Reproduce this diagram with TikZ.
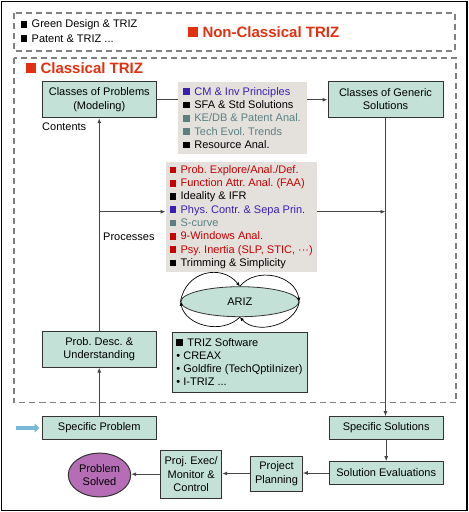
\documentclass[tikz,border=0pt]{standalone}
\usepackage{fontspec}
\setmainfont{Liberation Sans}
\usepackage{tikz}
\usetikzlibrary{arrows.meta,shapes.geometric}
\definecolor{boxfill}{RGB}{195,225,215}
\definecolor{listfill}{RGB}{228,225,221}
\definecolor{triRed}{RGB}{226,48,16}
\definecolor{itemRed}{RGB}{200,0,0}
\definecolor{itemBlue}{RGB}{58,30,180}
\definecolor{itemTeal}{RGB}{90,128,128}
\definecolor{solvedFill}{RGB}{181,110,181}
\definecolor{entryBlue}{RGB}{120,184,216}
\definecolor{lineGray}{RGB}{70,70,70}
\definecolor{frameGray}{RGB}{128,128,128}
\frenchspacing
\newcommand{\smallsq}{\rule{6.7pt}{6.7pt}\hspace{4.3pt}}
\newcommand{\bigsq}{\rule{10pt}{10pt}\hspace{4.3pt}}
\newcommand{\triitem}[2]{\textcolor{#1}{\smallsq#2}}

\begin{document}
\begin{tikzpicture}[x=1pt,y=1pt]
\tikzstyle{every node}+=[inner sep=0pt, font=\fontsize{11}{13.3}\selectfont]
\tikzstyle{tbox}=[draw=black!80, line width=1pt, fill=boxfill, align=center]
\tikzstyle{listbox}=[fill=listfill, align=left]
\tikzstyle{flow}=[draw=lineGray, line width=0.9pt, -{Latex[length=5pt,width=4pt]}]
\tikzstyle{arizloop}=[draw=black, line width=0.7pt, -{Latex[length=4pt,width=3.5pt]}]
\tikzstyle{dashbox}=[draw=frameGray, line width=1.3pt, dash pattern=on 6pt off 4pt]
\tikzstyle{headline}=[anchor=west, text=triRed, font=\fontsize{15}{18}\selectfont\bfseries]
\tikzstyle{entryarrow}=[draw=entryBlue, line width=3.5pt, -{Triangle[length=5pt,width=9pt]}, shorten >=2.5pt]
\useasboundingbox (0,0) rectangle (469,-512);
\draw [black, line width=1.5pt] (1.5,-1.5) rectangle (467,-510.5);
\draw [dashbox] (14,-13) rectangle (455,-51);
\draw [dashbox] (14,-58) rectangle (456,-402.5);
\node [anchor=west] (green) at (20.5,-25) {\smallsq Green Design \& TRIZ};
\node [anchor=west] (patent) at (20.5,-38.3) {\smallsq Patent \& TRIZ ...};
\node [headline] (nonclassical) at (188,-32) {\bigsq Non-Classical TRIZ};
\node [headline] (classical) at (26,-67.7) {\bigsq Classical TRIZ};
\node [tbox, minimum width=113.5pt, minimum height=36pt] (cp) at (99.25,-99.7) {Classes of Problems\\(Modeling)};
\node [tbox, minimum width=115pt, minimum height=36.7pt] (cg) at (385.5,-99.35) {Classes of Generic\\Solutions};
\draw [flow] (cp.east) -- (cp.east -| cg.west);
\node [listbox, minimum width=129.2pt, minimum height=72.3pt] (kb) at (242.1,-117.85) {\triitem{itemBlue}{CM \& Inv Principles}\\
\triitem{black}{SFA \& Std Solutions}\\
\triitem{itemTeal}{KE/DB \& Patent Anal.}\\
\triitem{itemTeal}{Tech Evol. Trends}\\
\triitem{black}{Resource Anal.}};
\node [listbox, minimum width=151pt, minimum height=110pt] (tools) at (241.2,-217) {\triitem{itemRed}{Prob. Explore/Anal./Def.}\\
\triitem{itemRed}{Function Attr. Anal. (FAA)}\\
\triitem{black}{Ideality \& IFR}\\
\triitem{itemBlue}{Phys. Contr. \& Sepa Prin.}\\
\triitem{itemTeal}{S-curve}\\
\triitem{itemRed}{9-Windows Anal.}\\
\triitem{itemRed}{Psy. Inertia (SLP, STIC, ···)}\\
\triitem{black}{Trimming \& Simplicity}};
\node [anchor=west] (contents) at (42,-127) {Contents};
\node [anchor=west] (processes) at (103,-237) {Processes};
\node [tbox, minimum width=113.5pt, minimum height=36pt] (pd) at (99.25,-349) {Prob. Desc. \&\\Understanding};
\draw [flow] (pd) -- (cp);
\coordinate (jl) at (99.25,-211.7);
\coordinate (jr) at (385.5,-211.7);
\draw [flow] (jl) -- (jl -| tools.west);
\draw [flow] (tools.east |- jl) -- (jr);
\node [ellipse, draw=black!80, line width=0.8pt, fill=boxfill, minimum width=118pt, minimum height=30pt] (ariz) at (239.9,-301.7) {ARIZ};
\draw [arizloop] (ariz.west) .. controls +(5,31) and +(-18,22.7) .. (ariz.north);
\draw [arizloop] (ariz.north) .. controls +(16,20) and +(-4,27) .. (ariz.east);
\draw [arizloop] (ariz.east) .. controls +(-4,-24) and +(16,-18) .. (ariz.south);
\draw [arizloop] (ariz.south) .. controls +(-18,-18) and +(5,-24) .. (ariz.west);
\node [tbox, align=left, minimum width=135pt, minimum height=60pt] (soft) at (239.5,-362) {\smallsq TRIZ Software\\• CREAX\\• Goldfire (TechQptiInizer)\\• I-TRIZ ...};
\node [tbox, minimum width=113.5pt, minimum height=22.6pt] (sp) at (99.25,-428) {Specific Problem};
\draw [flow] (sp) -- (pd);
\coordinate (entry) at (16,-428);
\draw [entryarrow] (entry) -- (sp.west);
\node [tbox, minimum width=113.7pt, minimum height=22.6pt] (ss) at (386.2,-428) {Specific Solutions};
\draw [flow] (cg.south) -- (cg.south |- ss.north);
\node [tbox, minimum width=113.7pt, minimum height=22.6pt] (se) at (386.2,-473) {Solution Evaluations};
\draw [flow] (ss) -- (se);
\node [tbox, minimum width=51.6pt, minimum height=35pt] (pp) at (276.5,-473.5) {Project\\Planning};
\draw [flow] (se.west) -- (se.west -| pp.east);
\node [tbox, minimum width=61pt, minimum height=48.3pt] (px) at (191.2,-474.2) {Proj. Exec/\\Monitor \&\\Control};
\draw [flow] (pp.west) -- (pp.west -| px.east);
\node [ellipse, draw=black!80, line width=1pt, fill=solvedFill, minimum width=62.4pt, minimum height=43.7pt, align=center] (ps) at (99.5,-475) {Problem\\Solved};
\draw [flow] (px.west) -- (px.west -| ps.east);
\end{tikzpicture}
\end{document}
